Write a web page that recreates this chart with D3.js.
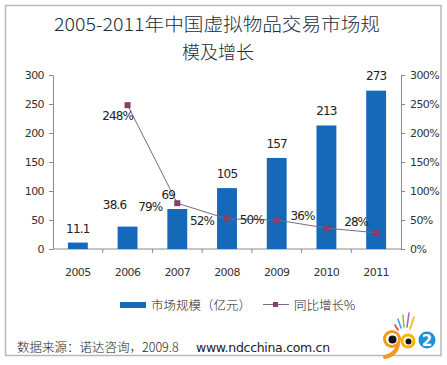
<!DOCTYPE html>
<html><head><meta charset="utf-8">
<script src="https://cdn.jsdelivr.net/npm/d3@7"></script>
<style>
body{margin:0;background:#fff;}
svg text{font-family:"Noto Sans CJK SC","Noto Sans",sans-serif;}
</style></head>
<body><svg id="c" width="447" height="365"></svg>
<script>
const years = ["2005","2006","2007","2008","2009","2010","2011"];
const marketSize = [11.1, 38.6, 69, 105, 157, 213, 273];
const growth = [null, 248, 79, 52, 50, 36, 28];
const growthLabels = ["", "248%", "79%", "52%", "50%", "36%", "28%"];
const leftTicks = [0, 50, 100, 150, 200, 250, 300];
const rightTicks = [0, 50, 100, 150, 200, 250, 300];
const titleLines = ["2005-2011年中国虚拟物品交易市场规", "模及增长"];
const legendLabels = ["市场规模（亿元）", "同比增长%"];
const sourceText = "数据来源：诺达咨询，2009.8";
const urlText = "www.ndcchina.com.cn";

const svg = d3.select("#c");
const numFont = '"DejaVu Sans","Liberation Sans",sans-serif';

// frame
svg.append("rect").attr("x",5.5).attr("y",5.5).attr("width",435.5).attr("height",350)
  .attr("fill","#fff").attr("stroke","#b8b8b8").attr("stroke-width",1.5);

// title
svg.append("text").attr("x",217).attr("y",31).attr("text-anchor","middle")
  .attr("font-size",18).attr("font-weight",300).attr("fill","#1d2b3a").attr("textLength",326).attr("lengthAdjust","spacingAndGlyphs")
  .text(titleLines[0]);
svg.append("text").attr("x",218).attr("y",59).attr("text-anchor","middle")
  .attr("font-size",18).attr("font-weight",300).attr("fill","#1d2b3a").text(titleLines[1]);

const x0 = 53, x1 = 401, yTop = 75, yBot = 249;
const x = d3.scaleBand().domain(years).range([x0, x1]).paddingInner(0.6).paddingOuter(0.3);
const xb = d3.scaleBand().domain(years).range([x0, x1]);
const yL = d3.scaleLinear().domain([0,300]).range([yBot, yTop]);
const yR = d3.scaleLinear().domain([0,300]).range([yBot, yTop]);

const axisColor = "#8a8a8a";
function styleAxis(g){
  g.selectAll(".domain").attr("stroke",axisColor);
  g.selectAll(".tick line").attr("stroke",axisColor);
  g.selectAll("text").attr("fill","#333").attr("font-size",11).style("font-family",numFont).attr("letter-spacing","-0.6");
}
svg.append("g").attr("transform",`translate(${x0},0)`)
  .call(d3.axisLeft(yL).tickValues(leftTicks).tickSize(4).tickSizeOuter(0).tickPadding(5))
  .call(styleAxis);
svg.append("g").attr("transform",`translate(${x1},0)`)
  .call(d3.axisRight(yR).tickValues(rightTicks).tickSize(4).tickSizeOuter(0).tickPadding(5).tickFormat(d=>d+"%"))
  .call(styleAxis);

// bottom axis: ticks at band boundaries
const gx = svg.append("g").attr("transform",`translate(0,${yBot})`);
gx.append("line").attr("x1",x0).attr("x2",x1).attr("stroke",axisColor);
gx.selectAll("line.t").data(years.slice(1)).join("line").attr("class","t")
  .attr("x1",d=>xb(d)).attr("x2",d=>xb(d)).attr("y1",0).attr("y2",4).attr("stroke",axisColor);
gx.selectAll("text").data(years).join("text")
  .attr("x",d=>xb(d)+xb.bandwidth()/2).attr("y",27).attr("text-anchor","middle")
  .attr("font-size",11).attr("fill","#333").style("font-family",numFont).attr("letter-spacing","-0.6")
  .text(d=>d);

// bars
const barColor = "#1668b9";
svg.selectAll("rect.bar").data(years).join("rect").attr("class","bar")
  .attr("x",d=>x(d)).attr("width",x.bandwidth())
  .attr("y",(d,i)=>yL(marketSize[i])).attr("height",(d,i)=>yBot-yL(marketSize[i]))
  .attr("fill",barColor);

// bar labels
const barLabelOffset = [[0,-10],[-13,-18],[-9,-10],[0,-10],[0,-10],[0,-10],[0,-11]];
svg.selectAll("text.bl").data(years).join("text").attr("class","bl")
  .attr("x",(d,i)=>xb(d)+xb.bandwidth()/2+barLabelOffset[i][0])
  .attr("y",(d,i)=>yL(marketSize[i])+barLabelOffset[i][1])
  .attr("text-anchor","middle").attr("font-size",12).attr("fill","#222")
  .style("font-family",numFont).attr("letter-spacing","-0.8")
  .text((d,i)=>marketSize[i]);

// growth line
const pts = years.map((d,i)=>({d, v:growth[i], i})).filter(p=>p.v!==null);
const line = d3.line().x(p=>xb(p.d)+xb.bandwidth()/2).y(p=>yR(p.v));
svg.append("path").datum(pts).attr("d",line).attr("fill","none").attr("stroke","#7b6a85").attr("stroke-width",1);
const markColor = "#8c3c68";
svg.selectAll("rect.m").data(pts).join("rect").attr("class","m")
  .attr("x",p=>xb(p.d)+xb.bandwidth()/2-3).attr("y",p=>yR(p.v)-3)
  .attr("width",6).attr("height",6).attr("fill",markColor);

// growth labels (positioned relative to markers)
const gOff = [[0,0],[-10,15],[-27,8],[-25,6],[-25,4],[-24,-8],[-20,-7]];
svg.selectAll("text.gl").data(pts).join("text").attr("class","gl")
  .attr("x",p=>xb(p.d)+xb.bandwidth()/2+gOff[p.i][0])
  .attr("y",p=>yR(p.v)+gOff[p.i][1])
  .attr("text-anchor","middle").attr("font-size",12).attr("fill","#222")
  .style("font-family",numFont).attr("letter-spacing","-0.9")
  .text(p=>growthLabels[p.i]);

// legend
svg.append("rect").attr("x",120).attr("y",302).attr("width",26).attr("height",6).attr("fill",barColor);
svg.append("text").attr("x",151).attr("y",310).attr("font-size",12.5).attr("font-weight",300).attr("fill","#222").text(legendLabels[0]);
svg.append("line").attr("x1",263).attr("x2",289).attr("y1",304.5).attr("y2",304.5).attr("stroke","#7b6a85");
svg.append("rect").attr("x",273).attr("y",302).attr("width",5).attr("height",5).attr("fill",markColor);
svg.append("text").attr("x",294).attr("y",310).attr("font-size",12.5).attr("font-weight",300).attr("fill","#222").text(legendLabels[1]);

// source
svg.append("text").attr("x",17).attr("y",352).attr("font-size",12.5).attr("font-weight",300).attr("fill","#222").text(sourceText);
svg.append("text").attr("x",196).attr("y",352).attr("font-size",12.5).attr("fill","#222")
  .style("font-family",numFont).attr("letter-spacing","-0.3").text(urlText);

// logo (approximation)
const lg = svg.append("g");
const rays = [["#e8413c",395,325,398,330],["#3aa7e0",398,319,401,328],["#8cc63f",403,315,404,327],["#b05fc1",409,313,407,327],["#f6b400",414,317,410,329]];
rays.forEach(r=>lg.append("line").attr("x1",r[1]).attr("y1",r[2]).attr("x2",r[3]).attr("y2",r[4]).attr("stroke",r[0]).attr("stroke-width",1.6).attr("stroke-linecap","round"));
lg.append("path").attr("d","M398,342 Q398,354 385,357").attr("fill","none").attr("stroke","#f29a1d").attr("stroke-width",4).attr("stroke-linecap","round");
lg.append("circle").attr("cx",392).attr("cy",339).attr("r",9).attr("fill","#f29a1d");
lg.append("circle").attr("cx",408).attr("cy",341).attr("r",7.5).attr("fill","#f6b400");
lg.append("circle").attr("cx",427).attr("cy",340).attr("r",8.5).attr("fill","#1f8fd6");
lg.append("circle").attr("cx",392).attr("cy",339).attr("r",6).attr("fill","#fff");
lg.append("circle").attr("cx",392.5).attr("cy",339.5).attr("r",4).attr("fill","#111");
lg.append("circle").attr("cx",408).attr("cy",341).attr("r",4.5).attr("fill","#fff");
lg.append("circle").attr("cx",408.5).attr("cy",341.5).attr("r",3).attr("fill","#111");
lg.append("text").attr("x",427).attr("y",346).attr("text-anchor","middle").attr("font-size",15).attr("font-weight","bold")
  .attr("fill","#fff").style("font-family",numFont).text("2");
</script></body></html>
